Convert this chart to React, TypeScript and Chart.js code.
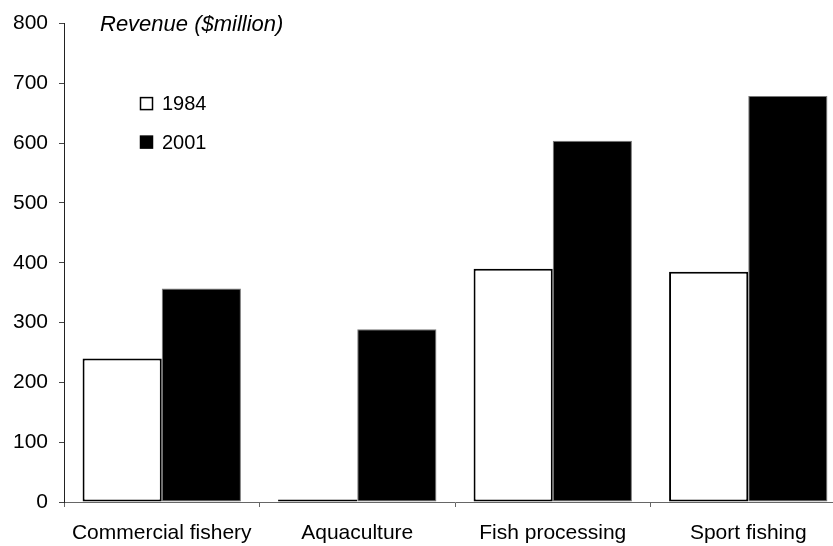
import React, { useEffect, useRef } from "react";
import { Chart, registerables } from "chart.js";

Chart.register(...registerables);

const categories = ["Commercial fishery", "Aquaculture", "Fish processing", "Sport fishing"];
const seriesLabels = ["1984", "2001"];
const rev1984 = [240, 4, 390, 385];
const rev2001 = [357, 289, 604, 679];
const yTitle = "Revenue ($million)";
const yMin = 0;
const yMax = 800;
const yStep = 100;

const FONT = "'Liberation Sans', Arial, sans-serif";

const overlayPlugin = {
  id: "overlay",
  afterDraw(chart: any) {
    const ctx = chart.ctx;
    const area = chart.chartArea;
    ctx.save();
    // axis title inside plot
    ctx.fillStyle = "#000";
    ctx.font = `italic 22px ${FONT}`;
    ctx.textBaseline = "alphabetic";
    ctx.textAlign = "left";
    ctx.fillText(yTitle, area.left + 36, area.top + 7.5);
    // legend
    ctx.font = `20px ${FONT}`;
    const rows = [area.top + 86.5, area.top + 125];
    chart.data.datasets.forEach((ds: any, i: number) => {
      const base = rows[i];
      const bx = area.left + 76.5;
      const by = base - 12.5;
      ctx.fillStyle = ds.backgroundColor;
      ctx.fillRect(bx, by, 12, 12);
      ctx.lineWidth = 1.5;
      ctx.strokeStyle = "#000";
      ctx.strokeRect(bx, by, 12, 12);
      ctx.fillStyle = "#000";
      ctx.fillText(ds.label, area.left + 98, base);
    });
    ctx.restore();
  },
};

export default function App() {
  const ref = useRef<HTMLCanvasElement>(null);
  useEffect(() => {
    if (!ref.current) return;
    const chart = new Chart(ref.current, {
      type: "bar",
      data: {
        labels: categories,
        datasets: [
          {
            label: seriesLabels[0],
            data: rev1984,
            backgroundColor: "#ffffff",
            borderColor: "#000000",
            borderWidth: 2,
            borderSkipped: false,
            categoryPercentage: 0.81,
            barPercentage: 1.0,
          },
          {
            label: seriesLabels[1],
            data: rev2001,
            backgroundColor: "#000000",
            borderColor: "#777777",
            borderWidth: 1,
            borderSkipped: false,
            categoryPercentage: 0.81,
            barPercentage: 1.0,
          },
        ],
      },
      options: {
        animation: false,
        responsive: true,
        maintainAspectRatio: false,
        layout: { padding: { top: 22, left: 0, right: 0, bottom: 0 } },
        plugins: {
          legend: { display: false },
          tooltip: { enabled: false },
          title: { display: false },
        },
        scales: {
          x: {
            type: "category",
            offset: true,
            grid: {
              display: true,
              drawOnChartArea: false,
              drawTicks: true,
              tickLength: 5,
              color: "#666",
              offset: true,
            },
            border: { display: true, color: "#666", width: 1 },
            ticks: {
              color: "#000",
              font: { family: FONT, size: 21 },
              padding: 14,
              maxRotation: 0,
              autoSkip: false,
            },
            afterFit: (s: any) => {
              s.height = 44;
            },
          },
          y: {
            min: yMin,
            max: yMax,
            grid: {
              display: true,
              drawOnChartArea: false,
              drawTicks: true,
              tickLength: 5,
              color: "#444",
            },
            border: { display: true, color: "#222", width: 1 },
            ticks: {
              stepSize: yStep,
              color: "#000",
              font: { family: FONT, size: 21 },
              padding: 11,
            },
            afterFit: (s: any) => {
              s.width = 64;
            },
          },
        },
      },
      plugins: [overlayPlugin],
    });
    return () => chart.destroy();
  }, []);
  return (
    <div
      style={{
        position: "fixed",
        left: 0,
        top: 0,
        width: 833,
        height: 546,
        overflow: "hidden",
        background: "#fff",
      }}
    >
      <div style={{ position: "relative", width: 846, height: 546 }}>
        <canvas ref={ref} />
      </div>
    </div>
  );
}
